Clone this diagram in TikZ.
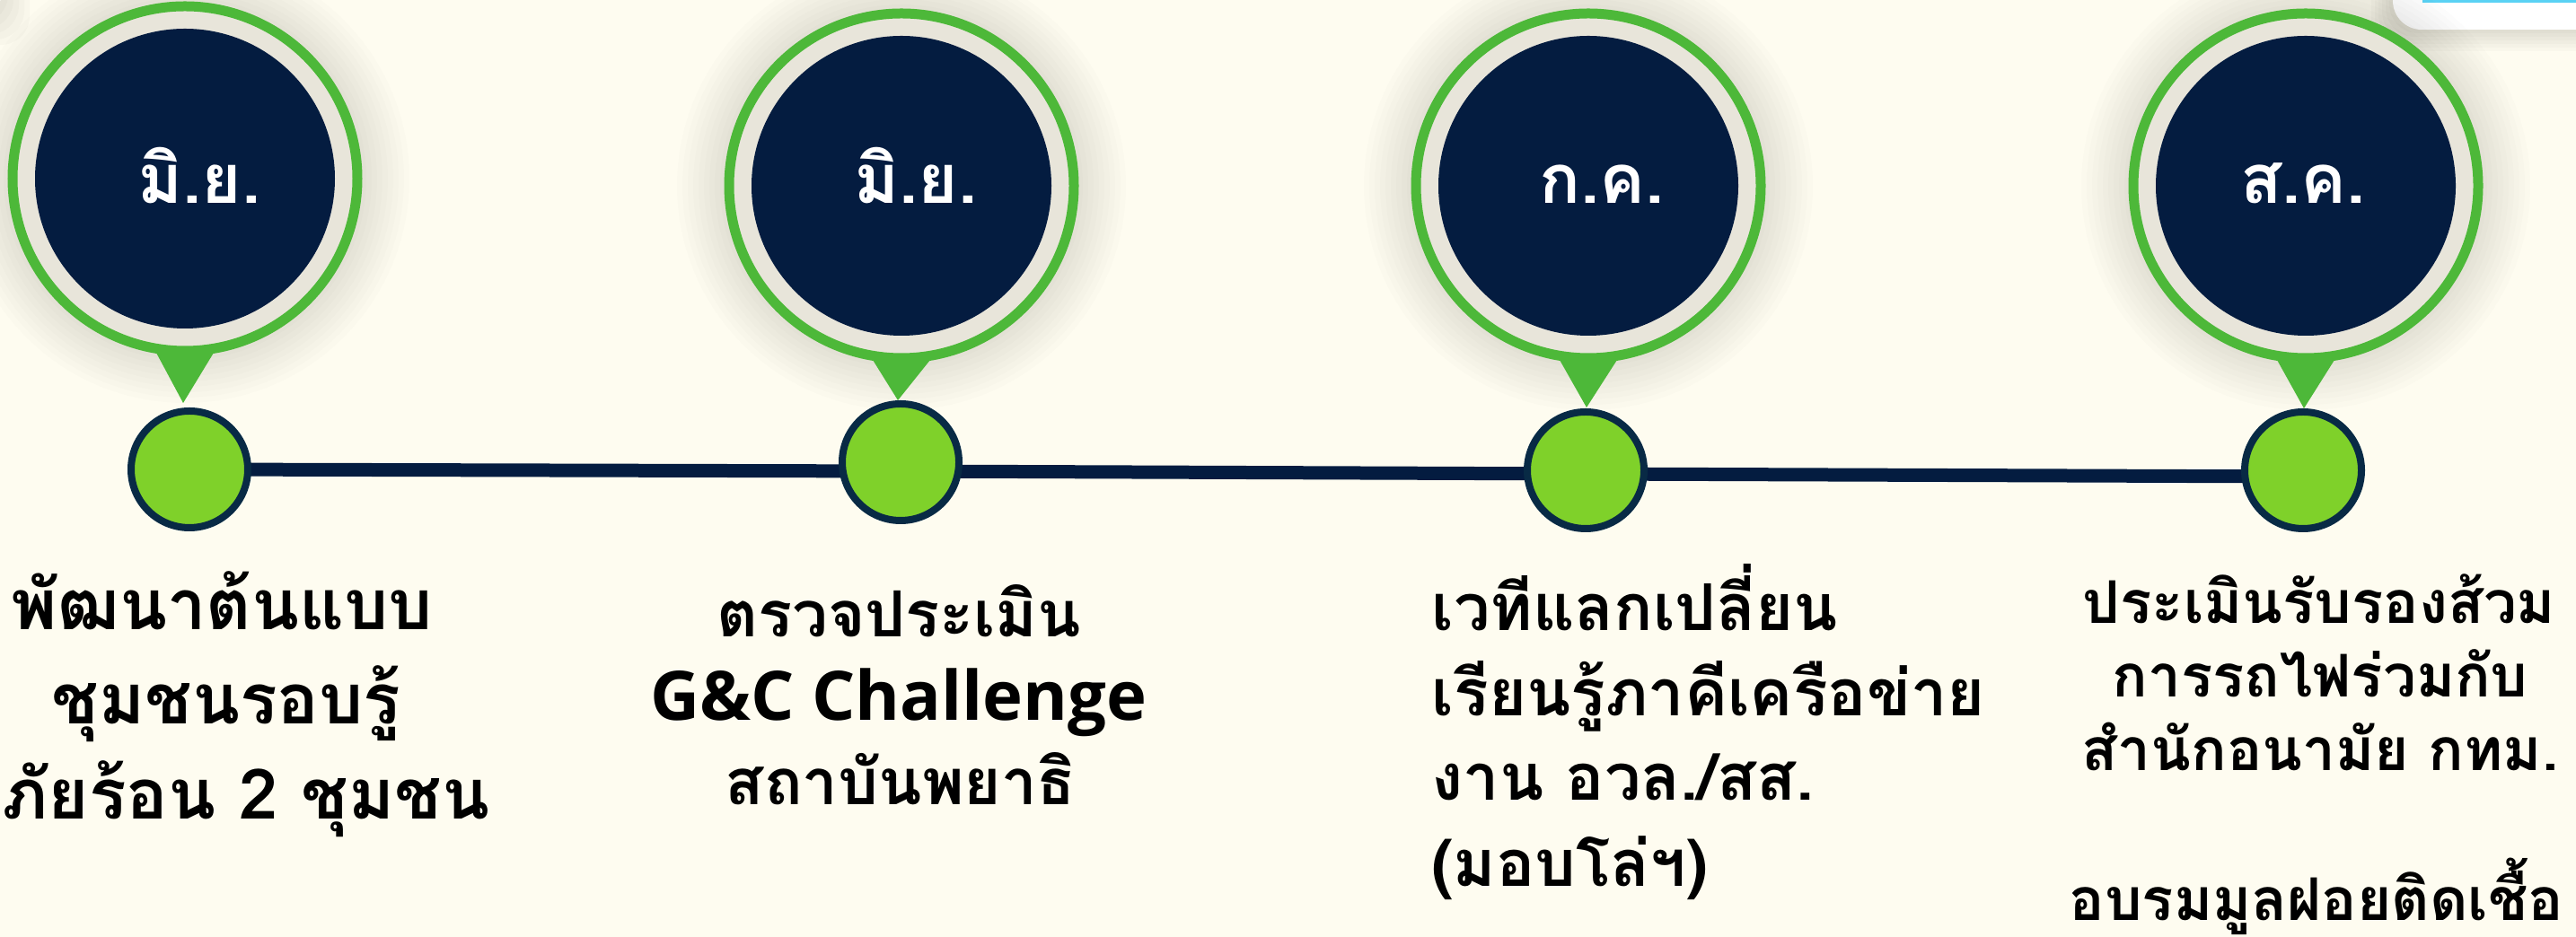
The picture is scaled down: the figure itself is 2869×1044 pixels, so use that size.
\documentclass[tikz,border=0pt]{standalone}
\usepackage{fontspec}
\newfontfamily\thaifont[Script=Thai]{Loma}
\newfontfamily\latfont{Open Sans}
\definecolor{bgc}{HTML}{FEFCF0}
\definecolor{navy}{HTML}{041C40}
\definecolor{ringgreen}{HTML}{4DB839}
\definecolor{dotgreen}{HTML}{7FD12A}
\definecolor{dotborder}{HTML}{082A45}
\definecolor{gapc}{HTML}{E8E5DA}
\definecolor{cyanline}{HTML}{5AD2F4}
\tikzset{
  bigc/.style={circle, fill=navy, minimum size=83.5pt, inner sep=0pt, draw=none},
  dotc/.style={circle, fill=dotgreen, draw=dotborder, line width=2pt, minimum size=32.5pt, inner sep=0pt},
  month/.style={font=\thaifont\bfseries\fontsize{19pt}{22pt}\selectfont, text=white, inner sep=0pt, anchor=base},
  lbl/.style={font=\thaifont\bfseries\fontsize{18pt}{22pt}\selectfont, text=black, inner sep=0pt, anchor=base},
  lblA/.style={lbl, font=\thaifont\bfseries\fontsize{19.4pt}{22pt}\selectfont},
  lblB/.style={lbl, font=\thaifont\bfseries\fontsize{17.7pt}{22pt}\selectfont},
  lblD/.style={lbl, font=\thaifont\bfseries\fontsize{16.4pt}{22pt}\selectfont},
  latlbl/.style={font=\latfont\bfseries\fontsize{19pt}{22pt}\selectfont, text=black, inner sep=0pt, anchor=base},
  tline/.style={draw=navy, line width=3.75pt, line cap=round},
  pointer/.style={fill=ringgreen},
}
\begin{document}
\begin{tikzpicture}[x=0.25pt,y=-0.25pt]
\useasboundingbox (0,0) rectangle (2869,1044);
\fill[bgc] (0,0) rectangle (2869,1044);

% top-left corner remnant
\foreach \s in {6,12,18,24,30}{\fill[black,opacity=0.018,rounded corners=8pt] (-200,-200) rectangle (3+\s,20+\s);}
\fill[white,rounded corners=8pt] (-200,-200) rectangle (3,20);

% top-right card
\foreach \s in {4,8,12,16,20,24}{\fill[black,opacity=0.02,rounded corners=8pt] (2665-\s,-200) rectangle (3000,33+\s);}
\fill[white,rounded corners=8pt] (2665,-200) rectangle (3000,33);
\fill[cyanline] (2698,0) rectangle (2869,3);

% halos, rings and pointers
\foreach \cx/\cy/\ty/\tp/\tx in {206/199/393/449/-2, 1004/207/401/446/-4, 1769/207/401/454/-2, 2568/207/401/455/-2}{
  \foreach \r in {202,208,...,250}{\fill[black,opacity=0.012] (\cx,\cy) circle[radius=\r];}
  \fill[pointer] (\cx-32,\ty) -- (\cx+32,\ty) -- (\cx+\tx,\tp) -- cycle;
  \fill[gapc] (\cx,\cy) circle[radius=192];
  \draw[ringgreen, line width=2.75pt] (\cx,\cy) circle[radius=192];
}
\node[bigc] (c1) at (206,199) {};
\node[bigc] (c2) at (1004,207) {};
\node[bigc] (c3) at (1769,207) {};
\node[bigc] (c4) at (2568,207) {};

% month labels
\node[month] (mt1) at (222,227) {มิ.ย.};
\node[month] (mt2) at (1020,227) {มิ.ย.};
\node[month] (mt3) at (1784,227) {ก.ค.};
\node[month] (mt4) at (2565,227) {ส.ค.};

% timeline
\coordinate (l1) at (211,523);
\coordinate (l2) at (1003,525);
\coordinate (l3) at (1766,528);
\coordinate (l4) at (2565,531);
\draw[tline] (l1) -- (l2) -- (l3) -- (l4);
\node[dotc] (d1) at (211,523) {};
\node[dotc] (d2) at (1003,515) {};
\node[dotc] (d3) at (1766,524) {};
\node[dotc] (d4) at (2565,524) {};

% column 1
\node[lblA] (t11) at (247,702) {พัฒนาต้นแบบ};
\node[lblA] (t12) at (252,807) {ชุมชนรอบรู้};
\node[lblA] (t13) at (274,913) {ภัยร้อน 2 ชุมชน};
% column 2
\node[lblB] (t21) at (1001,710) {ตรวจประเมิน};
\node[latlbl] (t22) at (1001,803) {G\&C Challenge};
\node[lblB] (t23) at (1003,897) {สถาบันพยาธิ};
% column 3
\node[lbl,anchor=base west] (t31) at (1594,703) {เวทีแลกเปลี่ยน};
\node[lbl,anchor=base west] (t32) at (1594,798) {เรียนรู้ภาคีเครือข่าย};
\node[lbl,anchor=base west] (t33) at (1594,892) {งาน อวล./สส.};
\node[lbl,anchor=base west] (t34) at (1594,988) {(มอบโล่ฯ)};
% column 4
\node[lblD] (t41) at (2583,695) {ประเมินรับรองส้วม};
\node[lblD] (t42) at (2584,777) {การรถไฟร่วมกับ};
\node[lblD] (t43) at (2584,859) {สำนักอนามัย กทม.};
\node[lblD] (t44) at (2580,1026) {อบรมมูลฝอยติดเชื้อ};
\end{tikzpicture}
\end{document}
